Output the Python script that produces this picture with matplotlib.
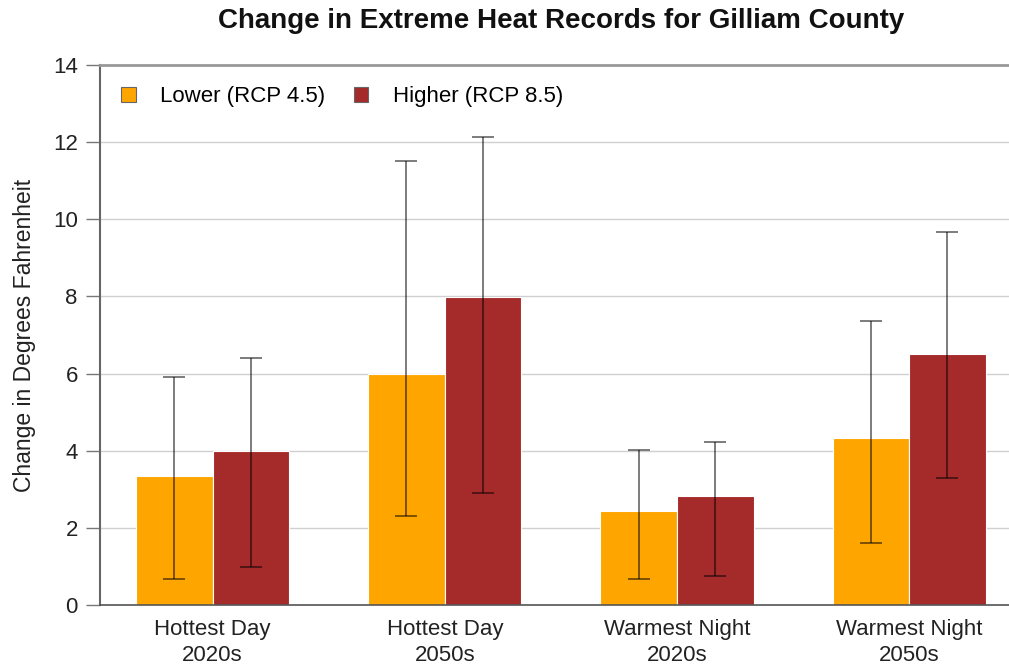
import matplotlib
matplotlib.use("Agg")
import matplotlib.pyplot as plt
import numpy as np

plt.rcParams['font.family'] = ['Liberation Sans', 'DejaVu Sans']

categories = ["Hottest Day\n2020s", "Hottest Day\n2050s", "Warmest Night\n2020s", "Warmest Night\n2050s"]
lower_vals = [3.34, 6.0, 2.44, 4.32]
lower_lo = [0.67, 2.31, 0.67, 1.62]
lower_hi = [5.91, 11.51, 4.02, 7.37]
higher_vals = [3.98, 7.99, 2.83, 6.52]
higher_lo = [0.99, 2.90, 0.76, 3.30]
higher_hi = [6.40, 12.13, 4.23, 9.68]
series_names = ["Lower (RCP 4.5)", "Higher (RCP 8.5)"]
colors = ["#FFA500", "#A52A2A"]
yticks = [0, 2, 4, 6, 8, 10, 12, 14]

fig = plt.figure(figsize=(10.09, 6.70), dpi=100)
ax = fig.add_axes([100/1009, 1 - 605/670, 1 - 100/1009, 540/670])

x = np.arange(len(categories))
w = 0.33
off = 0.165

for vals, lo, hi, c, name, sgn in [
    (lower_vals, lower_lo, lower_hi, colors[0], series_names[0], -1),
    (higher_vals, higher_lo, higher_hi, colors[1], series_names[1], 1),
]:
    vals = np.array(vals); lo = np.array(lo); hi = np.array(hi)
    ax.bar(x + sgn * off, vals, width=w, color=c, edgecolor='white', linewidth=0.8,
           label=name, zorder=2)
    ax.errorbar(x + sgn * off, vals, yerr=[vals - lo, hi - vals], fmt='none',
                ecolor='black', alpha=0.6, elinewidth=1.2, capsize=8, capthick=1.2, zorder=3)

ax.set_xlim(-0.485, 3.43)
ax.set_ylim(0, 14)
ax.set_yticks(yticks)
ax.set_yticklabels([str(t) for t in yticks], fontsize=16, color='#222222')
ax.set_xticks(x)
ax.set_xticklabels(categories, fontsize=16, color='#222222', linespacing=1.35)
ax.tick_params(axis='x', length=0, pad=10)
ax.tick_params(axis='y', length=10, width=1, color='#777777', pad=6)
ax.yaxis.grid(True, color='#d0d0d0', linewidth=1, zorder=0)
ax.set_axisbelow(True)

ax.spines['right'].set_visible(False)
ax.spines['top'].set_color('#999999')
ax.spines['top'].set_linewidth(2)
ax.spines['left'].set_color('#666666')
ax.spines['left'].set_linewidth(1.5)
ax.spines['bottom'].set_color('#555555')
ax.spines['bottom'].set_linewidth(1.2)

ax.set_ylabel("Change in Degrees Fahrenheit", fontsize=16.5, color='#222222', labelpad=12)

leg = ax.legend(loc='upper left', ncol=2, frameon=False, fontsize=16,
                handlelength=0.65, handleheight=0.65, handletextpad=1.1,
                columnspacing=1.3, bbox_to_anchor=(0.0, 1.0), borderaxespad=0.55)
for h in leg.legend_handles:
    h.set_edgecolor('#666666')
    h.set_linewidth(0.8)

fig.text(561/1009, 1 - 21/670, "Change in Extreme Heat Records for Gilliam County",
         ha='center', va='center', fontsize=20, fontweight='bold', color='#111111')

fig.savefig("out.png", dpi=100)
